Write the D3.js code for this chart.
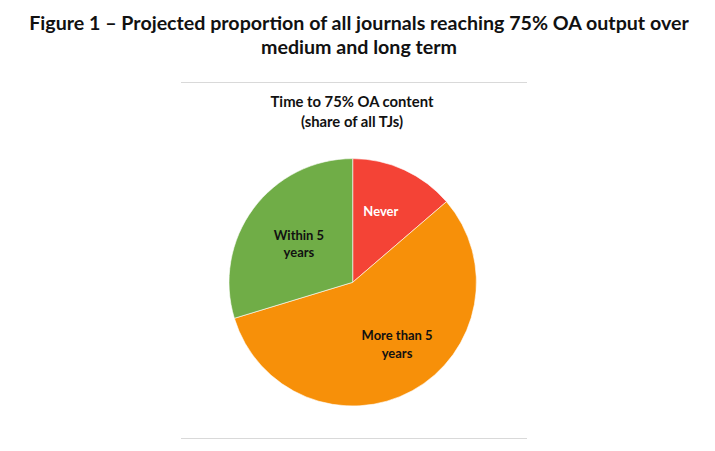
<!DOCTYPE html>
<html>
<head>
<meta charset="utf-8">
<script src="https://cdn.jsdelivr.net/npm/d3@7"></script>
<style>
  html, body { margin: 0; padding: 0; background: #fff; }
  svg { display: block; font-family: Lato, "Open Sans", sans-serif; }
</style>
</head>
<body>
<svg id="chart" width="715" height="451"></svg>
<script>
const titleLines = ["Figure 1 – Projected proportion of all journals reaching 75% OA output over", "medium and long term"];
const subtitleLines = ["Time to 75% OA content", "(share of all TJs)"];
const categories = ["Never", "More than 5 years", "Within 5 years"];
const labelLines = [["Never"], ["More than 5", "years"], ["Within 5", "years"]];
const values = [13.7, 56.6, 29.7];
const colors = ["#F44336", "#F79009", "#70AD47"];
const labelColors = ["#ffffff", "#111111", "#111111"];

const svg = d3.select("#chart");

// Title
const title = svg.append("g").attr("font-weight", 700).attr("fill", "#111").attr("text-anchor", "middle");
title.selectAll("text").data(titleLines).join("text")
  .attr("x", 359).attr("y", (d, i) => 30 + i * 23.5)
  .attr("font-size", 19.5)
  .text(d => d);
const t0 = title.select("text").node();
const w0 = t0.getComputedTextLength();
title.selectAll("text").attr("font-size", 19.5 * 660 / w0);

// Chart area borders
svg.append("line").attr("x1", 181).attr("x2", 527).attr("y1", 82.5).attr("y2", 82.5)
  .attr("stroke", "#d9d9d9").attr("stroke-width", 1);
svg.append("line").attr("x1", 181).attr("x2", 527).attr("y1", 438.5).attr("y2", 438.5)
  .attr("stroke", "#d9d9d9").attr("stroke-width", 1.2);

// Subtitle
const sub = svg.append("g").attr("font-weight", 700).attr("fill", "#111").attr("text-anchor", "middle");
sub.selectAll("text").data(subtitleLines).join("text")
  .attr("x", 352).attr("y", (d, i) => 107 + i * 19.5)
  .attr("font-size", 14)
  .text(d => d);
const s0 = sub.select("text").node();
const ws = s0.getComputedTextLength();
sub.selectAll("text").attr("font-size", 14 * 163 / ws);

// Pie
const cx = 352.7, cy = 282.3, r = 123.7;
const pie = d3.pie().sort(null).value(d => d)(values);
const arc = d3.arc().innerRadius(0).outerRadius(r);
const g = svg.append("g").attr("transform", `translate(${cx},${cy})`);
g.selectAll("path").data(pie).join("path")
  .attr("d", arc)
  .attr("fill", (d, i) => colors[i])
  .attr("stroke", "#ffffff").attr("stroke-width", 0.6);

// Labels: position within slice (angular fraction, radius fraction)
const labelAngleFrac = [0.44, 0.467, 0.493];
const labelRadius = [0.615, 0.617, 0.536];
const lab = g.selectAll("g.lab").data(pie).join("g").attr("class", "lab")
  .attr("transform", (d, i) => {
    const a = d.startAngle + (d.endAngle - d.startAngle) * labelAngleFrac[i];
    const rr = r * labelRadius[i];
    return `translate(${Math.sin(a) * rr},${-Math.cos(a) * rr})`;
  });
lab.each(function(d, i) {
  const lines = labelLines[i];
  const n = lines.length;
  d3.select(this).selectAll("text").data(lines).join("text")
    .attr("text-anchor", "middle")
    .attr("font-weight", 700)
    .attr("font-size", 13)
    .attr("fill", labelColors[i])
    .attr("y", (t, j) => (j - (n - 1) / 2) * 17.5 + 4.8)
    .text(t => t);
});
// fit label size to reference width of "More than 5"
const m = lab.filter((d, i) => i === 1).select("text").node();
const wm = m.getComputedTextLength();
lab.selectAll("text").attr("font-size", 13 * 71 / wm);
</script>
</body>
</html>
